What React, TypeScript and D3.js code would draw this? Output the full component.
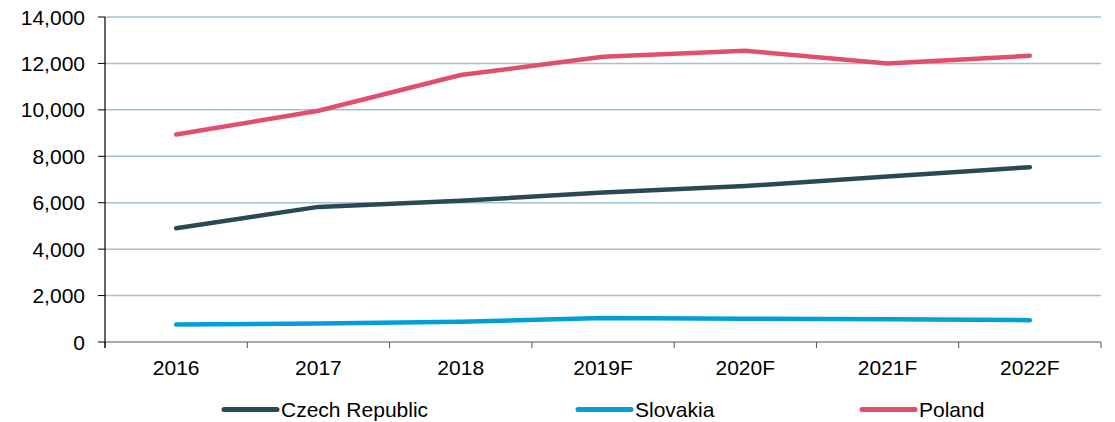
import React from "react";
import * as d3 from "d3";

const categories = ["2016", "2017", "2018", "2019F", "2020F", "2021F", "2022F"];
const czech = [4900, 5820, 6080, 6440, 6720, 7130, 7530];
const slovakia = [750, 800, 870, 1030, 1000, 980, 940];
const poland = [8940, 9960, 11500, 12290, 12545, 12000, 12330];
const yTicks = [0, 2000, 4000, 6000, 8000, 10000, 12000, 14000];

const series = [
  { name: "Czech Republic", values: czech, color: "#2b4855" },
  { name: "Slovakia", values: slovakia, color: "#009fd9" },
  { name: "Poland", values: poland, color: "#e04f6d" },
];

const W = 1115, H = 422;
const left = 105, right = 1101, top = 17, bottom = 342;

export default function App() {
  const x = d3.scaleBand<string>().domain(categories).range([left, right]);
  const y = d3.scaleLinear().domain([0, 14000]).range([bottom, top]);
  const line = d3
    .line<number>()
    .x((_, i) => (x(categories[i]) as number) + x.bandwidth() / 2)
    .y((d) => y(d));
  const font = "'Liberation Sans', Arial, sans-serif";
  const boundaries = categories.map((c) => x(c) as number).concat([right]);
  const legendX = [224, 578, 862];
  return (
    <svg width={W} height={H} style={{ position: "absolute", left: 0, top: 0 }} fontFamily={font}>
      {yTicks.map((t) => (
        <g key={t}>
          {t > 0 && (
            <line x1={left} x2={right} y1={y(t)} y2={y(t)} stroke="#9fc3d0" strokeWidth={1.5} />
          )}
          <line x1={left - 7} x2={left} y1={y(t)} y2={y(t)} stroke="#000" strokeWidth={1} />
          <text x={85} y={y(t)} dy="0.36em" textAnchor="end" fontSize={21} fill="#000">
            {d3.format(",")(t)}
          </text>
        </g>
      ))}
      <line x1={left} x2={right} y1={bottom} y2={bottom} stroke="#555" strokeWidth={1.2} />
      {boundaries.map((b, i) => (
        <line key={i} x1={b} x2={b} y1={bottom} y2={bottom + 6} stroke="#555" strokeWidth={1} />
      ))}
      <line x1={left} x2={left} y1={top} y2={bottom + 6} stroke="#000" strokeWidth={1.2} />
      {categories.map((c) => (
        <text
          key={c}
          x={(x(c) as number) + x.bandwidth() / 2}
          y={375}
          textAnchor="middle"
          fontSize={21}
          fill="#000"
        >
          {c}
        </text>
      ))}
      {series.map((s) => (
        <path
          key={s.name}
          d={line(s.values) as string}
          fill="none"
          stroke={s.color}
          strokeWidth={4.5}
          strokeLinecap="round"
          strokeLinejoin="round"
        />
      ))}
      {series.map((s, i) => (
        <g key={s.name}>
          <line
            x1={legendX[i]}
            x2={legendX[i] + 53}
            y1={409.5}
            y2={409.5}
            stroke={s.color}
            strokeWidth={5}
            strokeLinecap="round"
          />
          <text x={legendX[i] + 57} y={409.5} dy="0.36em" fontSize={21} fill="#000">
            {s.name}
          </text>
        </g>
      ))}
    </svg>
  );
}
